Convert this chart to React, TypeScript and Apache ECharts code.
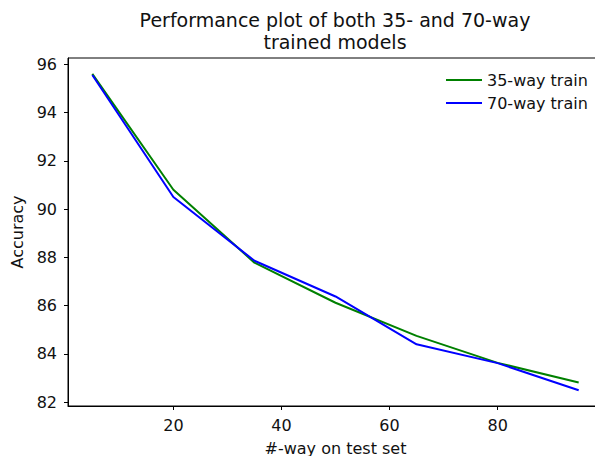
import React, { useEffect, useRef } from "react";
import * as echarts from "echarts";

const xValues = [5, 20, 35, 50, 65, 80, 95];
const train35 = [95.6, 90.8, 87.78, 86.12, 84.75, 83.63, 82.82];
const train70 = [95.55, 90.5, 87.86, 86.38, 84.4, 83.62, 82.5];
const seriesNames = ["35-way train", "70-way train"];
const xTicks = [20, 40, 60, 80];
const yTicks = [82, 84, 86, 88, 90, 92, 94, 96];

const FONT = "DejaVu Sans";

export default function App() {
  const ref = useRef<HTMLDivElement>(null);
  useEffect(() => {
    const chart = echarts.init(ref.current!, null, { renderer: "svg" });
    const pair = (ys: number[]) => xValues.map((x, i) => [x, ys[i]]);
    chart.setOption({
      animation: false,
      backgroundColor: "#fff",
      textStyle: { fontFamily: FONT },
      title: {
        text: "Performance plot of both 35- and 70-way\ntrained models",
        left: 330,
        textAlign: "center",
        top: 4,
        textStyle: { fontFamily: FONT, fontSize: 19, fontWeight: "normal", color: "#111", lineHeight: 22 },
      },
      grid: {
        left: 68, top: 58, width: 535, height: 348,
        show: true, borderColor: "#000", borderWidth: 1, backgroundColor: "transparent",
        containLabel: false, outerBoundsMode: "none",
      },
      legend: {
        orient: "vertical",
        left: 441,
        top: 67,
        itemWidth: 36,
        itemHeight: 2,
        itemGap: 7,
        data: seriesNames.map((n) => ({ name: n, icon: "rect" })),
        textStyle: { fontFamily: FONT, fontSize: 16, color: "#111" },
      },
      xAxis: {
        type: "value",
        min: 0.5,
        max: 99.5,
        name: "#-way on test set",
        nameLocation: "middle",
        nameGap: 34,
        nameTextStyle: { fontFamily: FONT, fontSize: 16, color: "#111" },
        axisLine: { show: true, lineStyle: { color: "#000", width: 1 } },
        axisTick: { show: true, inside: false, length: 4, customValues: xTicks, lineStyle: { color: "#000" } },
        axisLabel: { customValues: xTicks, fontFamily: FONT, fontSize: 16, color: "#111", margin: 11 },
        splitLine: { show: false },
      },
      yAxis: {
        type: "value",
        min: 81.845,
        max: 96.255,
        name: "Accuracy",
        nameLocation: "middle",
        nameGap: 38,
        nameTextStyle: { fontFamily: FONT, fontSize: 16, color: "#111" },
        axisLine: { show: true, lineStyle: { color: "#000", width: 1 } },
        axisTick: { show: true, inside: false, length: 4, customValues: yTicks, lineStyle: { color: "#000" } },
        axisLabel: { customValues: yTicks, fontFamily: FONT, fontSize: 16, color: "#111", margin: 11 },
        splitLine: { show: false },
      },
      series: [
        { name: seriesNames[0], type: "line", data: pair(train35), symbol: "none", lineStyle: { color: "#008000", width: 2 }, itemStyle: { color: "#008000" } },
        { name: seriesNames[1], type: "line", data: pair(train70), symbol: "none", lineStyle: { color: "#0000ff", width: 2 }, itemStyle: { color: "#0000ff" } },
      ],
    });
    return () => chart.dispose();
  }, []);
  return <div ref={ref} style={{ width: 595, height: 456, position: "absolute", left: 0, top: 0 }} />;
}
